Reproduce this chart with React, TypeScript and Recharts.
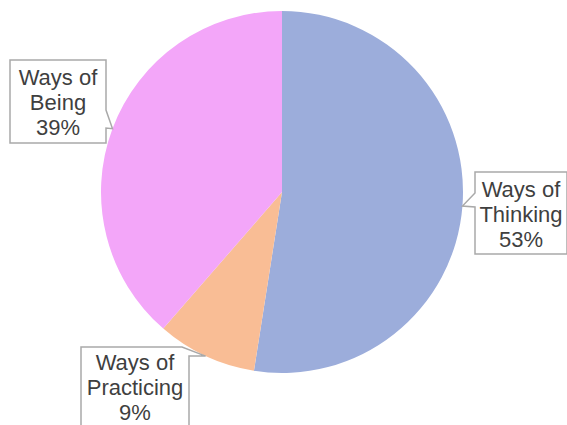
import React from "react";
import { PieChart, Pie, Cell } from "recharts";

const categories = ["Ways of Thinking", "Ways of Practicing", "Ways of Being"];
const labelLines = [["Ways of", "Thinking"], ["Ways of", "Practicing"], ["Ways of", "Being"]];
const percentValues = [53, 9, 39];
const sliceColors = ["#9CADDB", "#F9BD95", "#F3A6F9"];

const data = categories.map((name, i) => ({ name, value: percentValues[i], lines: labelLines[i] }));

// callout box layout (style only)
type Box = { x: number; y: number; w: number; h: number; side: "left" | "right" | "topRight"; b1: number; b2: number };
const boxes: Box[] = [
  { x: 475, y: 172, w: 92, h: 82, side: "left", b1: 193, b2: 207 },
  { x: 81, y: 347, w: 108, h: 90, side: "topRight", b1: 182, b2: 356 },
  { x: 10, y: 60, w: 96, h: 83, side: "right", b1: 110, b2: 128 },
];

const RADIAN = Math.PI / 180;

function CalloutLabel(props: any) {
  const { cx, cy, midAngle, outerRadius, index, payload, value } = props;
  const i = typeof index === "number" ? index : categories.indexOf(props.name);
  const box = boxes[i];
  const tx = cx + outerRadius * Math.cos(-midAngle * RADIAN);
  const ty = cy + outerRadius * Math.sin(-midAngle * RADIAN);
  const x0 = box.x, y0 = box.y, x1 = box.x + box.w, y1 = box.y + box.h;
  let d = "";
  if (box.side === "right") {
    d = `M${x0},${y0} L${x1},${y0} L${x1},${box.b1} L${tx},${ty} L${x1},${box.b2} L${x1},${y1} L${x0},${y1} Z`;
  } else if (box.side === "left") {
    d = `M${x0},${y0} L${x1},${y0} L${x1},${y1} L${x0},${y1} L${x0},${box.b2} L${tx},${ty} L${x0},${box.b1} Z`;
  } else {
    d = `M${x0},${y0} L${box.b1},${y0} L${tx},${ty} L${x1},${box.b2} L${x1},${y1} L${x0},${y1} Z`;
  }
  const lines: string[] = (payload && payload.lines) || labelLines[i];
  const all = [...lines, `${value}%`];
  const midX = x0 + box.w / 2;
  const lineH = 25;
  const startY = box.side === "topRight" ? y0 + 15 : y0 + box.h / 2 + 1 - lineH;
  return (
    <g>
      <path d={d} fill="#FFFFFF" stroke="#A9A9A9" strokeWidth={1.5} />
      {all.map((t, k) => (
        <text
          key={k}
          x={midX}
          y={startY + k * lineH}
          textAnchor="middle"
          dominantBaseline="central"
          fontFamily="'Liberation Sans', Arial, sans-serif"
          fontSize={22}
          fill="#3F3F3F"
        >
          {t}
        </text>
      ))}
    </g>
  );
}

export default function App() {
  return (
    <div style={{ position: "absolute", left: 0, top: 0, width: 567, height: 425, background: "#FFFFFF" }}>
      <PieChart width={567} height={425} margin={{ top: 0, right: 0, bottom: 0, left: 0 }}>
        <Pie
          data={data}
          dataKey="value"
          nameKey="name"
          cx={282}
          cy={192}
          outerRadius={181}
          startAngle={90}
          endAngle={-270}
          stroke="none"
          labelLine={false}
          label={(p: any) => <CalloutLabel {...p} />}
          isAnimationActive={false}
        >
          {data.map((d, i) => (
            <Cell key={d.name} fill={sliceColors[i]} />
          ))}
        </Pie>
      </PieChart>
    </div>
  );
}
